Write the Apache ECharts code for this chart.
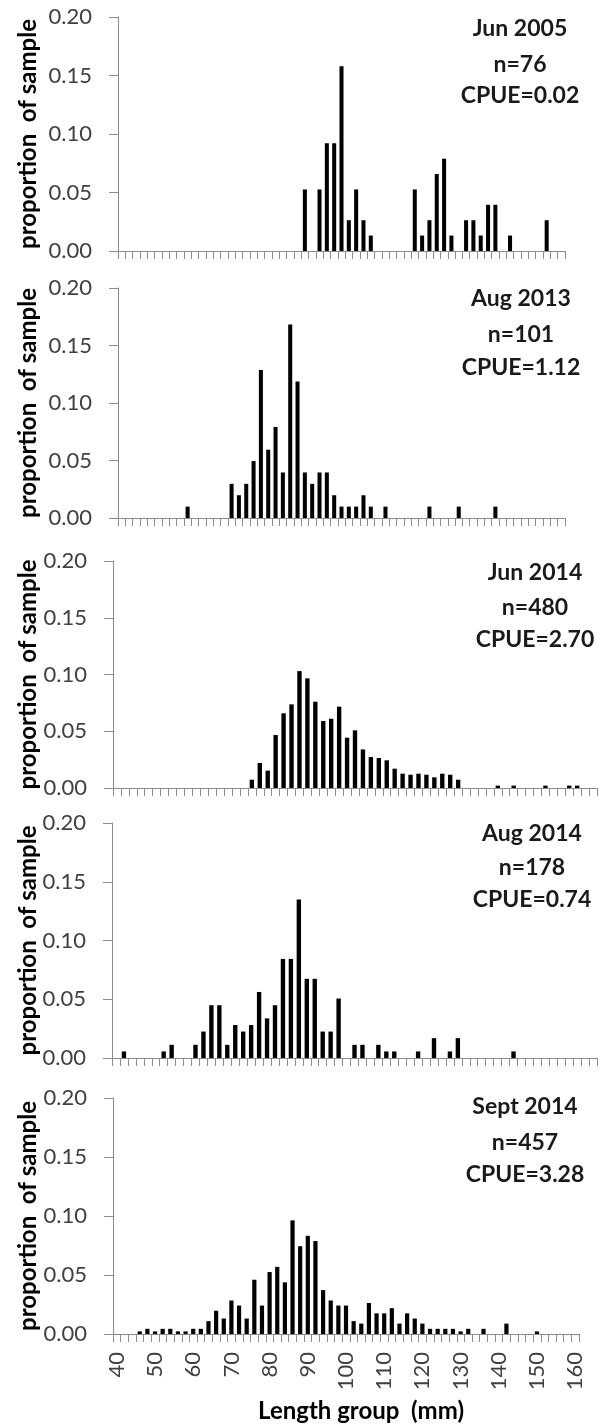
<!DOCTYPE html>
<html>
<head>
<meta charset="utf-8">
<script src="https://cdn.jsdelivr.net/npm/echarts@6/dist/echarts.min.js"></script>
<style>
  html, body { margin: 0; padding: 0; background: #fff; }
  #chart { width: 603px; height: 1426px; }
</style>
</head>
<body>
<div id="chart"></div>
<script>
// Length groups (mm), 2 mm bins
const lengthGroups = ['40','42','44','46','48','50','52','54','56','58',
  '60','62','64','66','68','70','72','74','76','78',
  '80','82','84','86','88','90','92','94','96','98',
  '100','102','104','106','108','110','112','114','116','118',
  '120','122','124','126','128','130','132','134','136','138',
  '140','142','144','146','148','150','152','154','156','158','160'];

const yTicks = [0, 0.05, 0.10, 0.15, 0.20];

// Proportion of sample per length group: [length, proportion]
const jun2005 = [[90,0.0526],[94,0.0526],[96,0.0921],[98,0.0921],[100,0.1579],[102,0.0263],
  [104,0.0526],[106,0.0263],[108,0.0132],[120,0.0526],[122,0.0132],[124,0.0263],[126,0.0658],
  [128,0.0789],[130,0.0132],[134,0.0263],[136,0.0263],[138,0.0132],[140,0.0395],[142,0.0395],
  [146,0.0132],[156,0.0263]];

const aug2013 = [[58,0.0099],[70,0.0297],[72,0.0198],[74,0.0297],[76,0.0495],[78,0.1287],
  [80,0.0594],[82,0.0792],[84,0.0396],[86,0.1683],[88,0.1188],[90,0.0396],[92,0.0297],
  [94,0.0396],[96,0.0396],[98,0.0198],[100,0.0099],[102,0.0099],[104,0.0099],[106,0.0198],
  [108,0.0099],[112,0.0099],[124,0.0099],[132,0.0099],[142,0.0099]];

const jun2014 = [[74,0.0073],[76,0.0220],[78,0.0153],[80,0.0467],[82,0.0658],[84,0.0737],
  [86,0.1030],[88,0.0966],[90,0.0760],[92,0.0590],[94,0.0610],[96,0.0717],[98,0.0443],
  [100,0.0508],[102,0.0340],[104,0.0273],[106,0.0264],[108,0.0244],[110,0.0170],[112,0.0126],
  [114,0.0117],[116,0.0126],[118,0.0117],[120,0.0094],[122,0.0126],[124,0.0117],[126,0.0073],
  [136,0.0021],[140,0.0021],[148,0.0021],[154,0.0021],[156,0.0021]];

const aug2014 = [[42,0.0056],[52,0.0056],[54,0.0112],[60,0.0112],[62,0.0225],[64,0.0449],
  [66,0.0449],[68,0.0112],[70,0.0281],[72,0.0225],[74,0.0281],[76,0.0562],[78,0.0337],
  [80,0.0449],[82,0.0843],[84,0.0843],[86,0.1348],[88,0.0674],[90,0.0674],[92,0.0225],
  [94,0.0225],[96,0.0506],[100,0.0112],[102,0.0112],[106,0.0112],[108,0.0056],[110,0.0056],
  [116,0.0056],[120,0.0169],[124,0.0056],[126,0.0169],[140,0.0056]];

const sep2014 = [[46,0.0022],[48,0.0044],[50,0.0022],[52,0.0044],[54,0.0044],[56,0.0022],
  [58,0.0022],[60,0.0044],[62,0.0044],[64,0.0109],[66,0.0197],[68,0.0131],[70,0.0284],
  [72,0.0241],[74,0.0131],[76,0.0460],[78,0.0241],[80,0.0525],[82,0.0569],[84,0.0438],
  [86,0.0963],[88,0.0744],[90,0.0832],[92,0.0788],[94,0.0372],[96,0.0284],[98,0.0241],
  [100,0.0241],[102,0.0109],[104,0.0088],[106,0.0263],[108,0.0175],[110,0.0175],[112,0.0219],
  [114,0.0088],[116,0.0175],[118,0.0131],[120,0.0088],[122,0.0044],[124,0.0044],[126,0.0044],
  [128,0.0044],[130,0.0022],[132,0.0044],[136,0.0044],[142,0.0088],[150,0.0022]];

const samples = [
  { lines: ['Jun 2005', 'n=76', 'CPUE=0.02'], data: jun2005 },
  { lines: ['Aug 2013', 'n=101', 'CPUE=1.12'], data: aug2013 },
  { lines: ['Jun 2014', 'n=480', 'CPUE=2.70'], data: jun2014 },
  { lines: ['Aug 2014', 'n=178', 'CPUE=0.74'], data: aug2014 },
  { lines: ['Sept 2014', 'n=457', 'CPUE=3.28'], data: sep2014 }
];

const yAxisTitle = 'proportion  of sample';
const xAxisTitle = 'Length group  (mm)';

// Panel geometry (px)
const layout = [
  { left: 118, top: 17,   width: 447, height: 234, textX: 520, textY: [29, 65, 96] },
  { left: 118, top: 288,  width: 447, height: 230, textX: 521, textY: [299, 335, 368] },
  { left: 113, top: 561,  width: 484, height: 227, textX: 535, textY: [573, 608, 640] },
  { left: 112, top: 823,  width: 485, height: 235, textX: 532, textY: [834, 868, 900] },
  { left: 113, top: 1098, width: 466, height: 236, textX: 525, textY: [1107, 1143, 1175] }
];

const AXIS_GREY = '#8c8c8c';
const LABEL_GREY = '#404040';
const FONT = 'Lato';

const grids = [], xAxes = [], yAxes = [], series = [], graphics = [];

samples.forEach((s, i) => {
  const g = layout[i];
  grids.push({ left: g.left, top: g.top, width: g.width, height: g.height, containLabel: false });

  xAxes.push({
    type: 'category', gridIndex: i, data: lengthGroups, boundaryGap: true,
    axisLine: { show: true, lineStyle: { color: AXIS_GREY, width: 1 } },
    axisTick: { show: true, interval: 0, length: 8, lineStyle: { color: AXIS_GREY } },
    axisLabel: {
      show: i === samples.length - 1, interval: 4, rotate: 90, margin: 18,
      fontFamily: FONT, fontSize: 22, color: LABEL_GREY
    },
    splitLine: { show: false }
  });

  yAxes.push({
    type: 'value', gridIndex: i, min: yTicks[0], max: yTicks[yTicks.length - 1], interval: 0.05,
    axisLine: { show: true, lineStyle: { color: AXIS_GREY, width: 1 } },
    axisTick: { show: true, length: 9, lineStyle: { color: AXIS_GREY } },
    axisLabel: {
      margin: 26, fontFamily: FONT, fontSize: 22, color: LABEL_GREY,
      formatter: v => v.toFixed(2)
    },
    splitLine: { show: false }
  });

  series.push({
    type: 'bar', xAxisIndex: i, yAxisIndex: i,
    data: s.data.map(([len, v]) => [String(len), v]),
    barWidth: '55%',
    itemStyle: { color: '#000' },
    silent: true
  });

  // sample label block
  s.lines.forEach((t, k) => {
    graphics.push({
      type: 'text', x: g.textX, y: g.textY[k], silent: true,
      style: {
        text: t, fill: '#1a1a1a', align: 'center', verticalAlign: 'middle',
        font: `bold 23px ${FONT}`
      }
    });
  });

  // y-axis title
  graphics.push({
    type: 'text', x: 28, y: g.top + g.height / 2, rotation: Math.PI / 2, silent: true,
    style: {
      text: yAxisTitle, fill: '#000', align: 'center', verticalAlign: 'middle',
      font: `bold 24px ${FONT}`
    }
  });
});

// x-axis title
graphics.push({
  type: 'text', x: 361, y: 1411, silent: true,
  style: {
    text: xAxisTitle, fill: '#000', align: 'center', verticalAlign: 'middle',
    font: `bold 24px ${FONT}`
  }
});

const chart = echarts.init(document.getElementById('chart'), null, { renderer: 'canvas' });
chart.setOption({
  animation: false,
  backgroundColor: '#fff',
  grid: grids,
  xAxis: xAxes,
  yAxis: yAxes,
  series: series,
  graphic: graphics
});
</script>
</body>
</html>
